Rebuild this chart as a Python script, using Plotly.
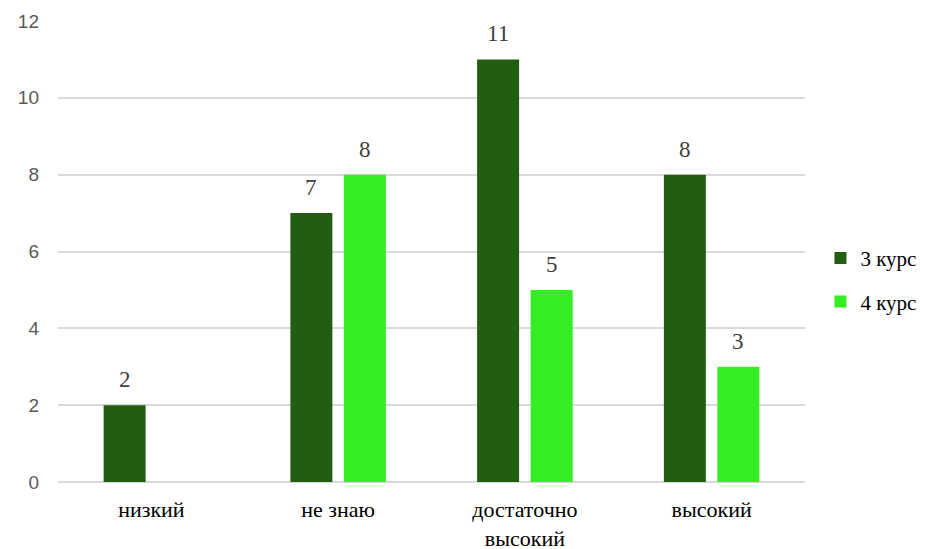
import plotly.graph_objects as go

categories = ["низкий", "не знаю", "достаточно<br>высокий", "высокий"]
series_names = ["3 курс", "4 курс"]
values_3 = [2, 7, 11, 8]
values_4 = [None, 8, 5, 3]
colors = ["#225E12", "#33EE22"]
y_ticks = [0, 2, 4, 6, 8, 10, 12]

SERIF = "Liberation Serif, Times New Roman, DejaVu Serif, serif"
SANS = "Liberation Sans, Arial, sans-serif"

fig = go.Figure()
for name, vals, col, grp in [(series_names[0], values_3, colors[0], "a"),
                             (series_names[1], values_4, colors[1], "b")]:
    fig.add_trace(go.Bar(
        x=categories, y=vals, name=name, legendgroup=grp,
        marker=dict(color=col, line=dict(width=0)),
    ))

# data labels above bars
slot = 0.2865
for k, vals in enumerate([values_3, values_4]):
    off = (k - 0.5) * slot
    for i, v in enumerate(vals):
        if v is None:
            continue
        fig.add_annotation(x=i + off, y=v, text=str(v), showarrow=False,
                           xref="x", yref="y", yanchor="bottom", yshift=11,
                           font=dict(family=SERIF, size=23, color="#404040"))

fig.update_layout(
    width=928, height=549,
    font=dict(family=SERIF),
    margin=dict(l=50, r=131, t=13, b=75, autoexpand=False),
    paper_bgcolor="white", plot_bgcolor="white",
    barmode="group", bargap=0.427, bargroupgap=0.215,
    showlegend=True,
    legend=dict(xref="container", yref="container",
                x=0.8755, y=0.5046, xanchor="left", yanchor="middle",
                font=dict(family=SERIF, size=21, color="#000000"),
                traceorder="grouped", tracegroupgap=13, itemwidth=30),
    xaxis=dict(tickfont=dict(family=SERIF, size=22, color="#000000"),
               showline=False, ticks="", showgrid=False,
               ticklabelstandoff=12, automargin=False),
    yaxis=dict(range=[0, 12], tickvals=y_ticks, showgrid=True,
               gridcolor="#D9D9D9", gridwidth=1.5, zeroline=True,
               zerolinecolor="#D9D9D9", zerolinewidth=1.5,
               tickfont=dict(family=SANS, size=19, color="#595959"),
               ticks="", showline=False, ticklabelstandoff=18,
               automargin=False),
)
fig.write_html("out.html")
